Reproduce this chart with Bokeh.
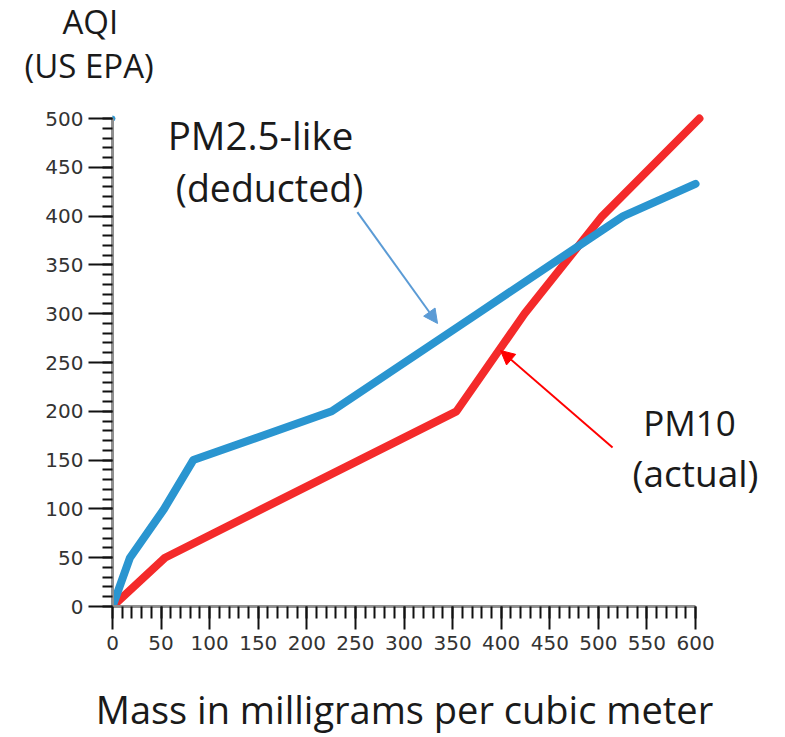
from bokeh.plotting import figure
from bokeh.models import Range1d, SingleIntervalTicker, Label, Arrow, NormalHead, Title
from bokeh.embed import file_html
from bokeh.resources import INLINE

# --- data ---
pm10_mass = [0, 54, 154, 254, 354, 424, 504, 604]
pm10_aqi = [0, 50, 100, 150, 200, 300, 400, 500]
pm25_mass = [0, 18, 53.1, 83.1, 225.6, 375.6, 525.6, 600]
pm25_aqi = [0, 50, 100, 150, 200, 300, 400, 433]
top_point_mass = [0]
top_point_aqi = [500]

x_label = "Mass in milligrams per cubic meter"
y_title_1 = "AQI"
y_title_2 = "(US EPA)"
pm25_name = ["PM2.5-like", "(deducted)"]
pm10_name = ["PM10", "(actual)"]

BLUE = "#2a95d0"
RED = "#f42a2a"
TXT = "#1a1a1a"
FONT = "Open Sans"
NBSP = "\u00a0"

p = figure(width=785, height=737, output_backend="svg", toolbar_location=None, title=None,
           x_range=Range1d(0, 672.0), y_range=Range1d(0, 508.2),
           min_border_left=112, min_border_right=20, min_border_top=110, min_border_bottom=131)
p.outline_line_color = None
p.grid.visible = False

p.xaxis.ticker = SingleIntervalTicker(interval=50, num_minor_ticks=5)
p.yaxis.ticker = SingleIntervalTicker(interval=50, num_minor_ticks=5)
p.xaxis.bounds = (0, 600)
p.yaxis.bounds = (0, 500)

for ax in (p.xaxis, p.yaxis):
    ax.axis_line_color = "#8f8f8f"
    ax.axis_line_width = 3
    ax.major_tick_line_color = "#111111"
    ax.minor_tick_line_color = "#111111"
    ax.major_tick_line_width = 2
    ax.minor_tick_line_width = 2
    ax.major_tick_in = 0
    ax.minor_tick_in = 0
    ax.major_label_text_font = "DejaVu Sans"
    ax.major_label_text_font_size = "20px"
    ax.major_label_text_color = "#333333"

p.xaxis.major_tick_out = 23
p.xaxis.minor_tick_out = 12
p.xaxis.major_label_standoff = 6
p.yaxis.major_tick_out = 24
p.yaxis.minor_tick_out = 10
p.yaxis.major_label_standoff = 5

# x-axis label (NBSP padding shifts its centre onto the 0..600 axis span)
p.xaxis.axis_label = x_label + NBSP * 7
p.xaxis.axis_label_text_font = FONT
p.xaxis.axis_label_text_font_style = "normal"
p.xaxis.axis_label_text_font_size = "38px"
p.xaxis.axis_label_text_color = TXT
p.xaxis.axis_label_standoff = 30

# y-axis title above the plot, two lines
p.add_layout(Title(text=y_title_2, align="left", offset=-88, vertical_align="top", standoff=42,
                   text_font=FONT, text_font_size="33px", text_font_style="normal",
                   text_color=TXT), "above")
p.add_layout(Title(text=y_title_1, align="left", offset=-50, vertical_align="bottom", standoff=-44,
                   text_font=FONT, text_font_size="33px", text_font_style="normal",
                   text_color=TXT), "above")

p.line(pm10_mass, pm10_aqi, line_color=RED, line_width=8, line_join="round", line_cap="round")
p.line(pm25_mass, pm25_aqi, line_color=BLUE, line_width=8, line_join="round", line_cap="round")
p.scatter(top_point_mass, top_point_aqi, size=5, color=BLUE)

def lab(x, y, t, size):
    p.add_layout(Label(x=x, y=y, text=t, text_align="center", text_baseline="alphabetic",
                       text_font=FONT, text_font_size=size, text_color=TXT))

lab(152.3, 483.5, pm25_name[0], "38.5px")
lab(161.6, 429.0, pm25_name[1], "37.5px")
lab(593.8, 188.5, pm10_name[0], "35px")
lab(600.0, 137.0, pm10_name[1], "37px")

p.add_layout(Arrow(end=NormalHead(size=14, fill_color="#5b9bd5", line_color="#5b9bd5"),
                   x_start=252, y_start=404, x_end=334.5, y_end=290,
                   line_color="#5b9bd5", line_width=2))
p.add_layout(Arrow(end=NormalHead(size=14, fill_color="#ff0000", line_color="#ff0000"),
                   x_start=514.6, y_start=163, x_end=399.3, y_end=262.3,
                   line_color="#ff0000", line_width=2))

open("out.html", "w").write(file_html(p, INLINE))
